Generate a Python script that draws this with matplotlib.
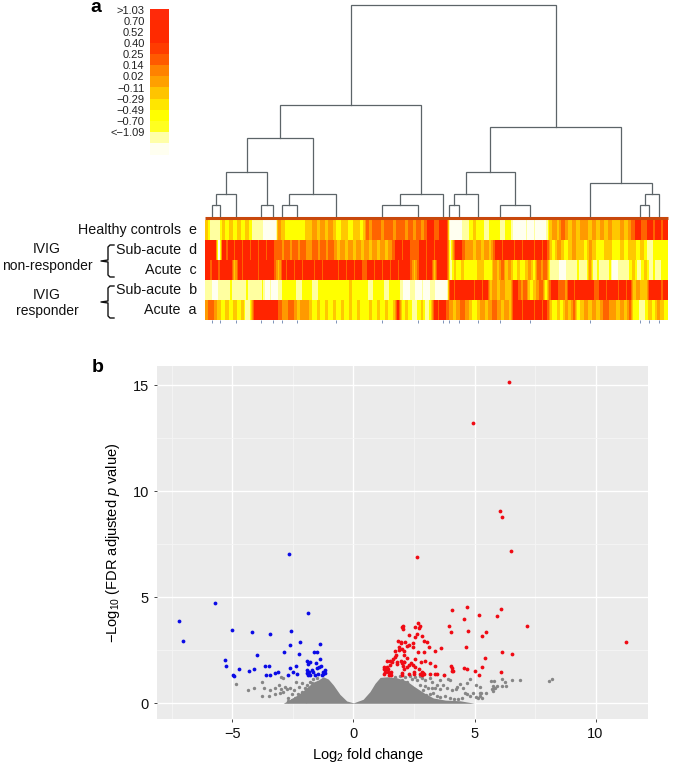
import matplotlib
matplotlib.use('Agg')
import matplotlib.pyplot as plt
import numpy as np
from matplotlib.colors import ListedColormap

plt.rcParams['font.family'] = ['Liberation Sans', 'DejaVu Sans']
plt.rcParams['mathtext.fontset'] = 'custom'
plt.rcParams['mathtext.rm'] = 'Liberation Sans'
plt.rcParams['mathtext.it'] = 'Liberation Sans:italic'
plt.rcParams['axes.unicode_minus'] = True

# colour scale of the heatmap
scale_labels = ['>1.03', '0.70', '0.52', '0.40', '0.25', '0.14', '0.02',
                '\u22120.11', '\u22120.29', '\u22120.49', '\u22120.70', '<\u22121.09']
scale_colors = ['#ff2a0a', '#ff2a00', '#ff2a00', '#ff3c00', '#ff5a00', '#ff8200', '#ffa000',
                '#ffc400', '#ffe600', '#ffff00', '#ffff20', '#ffffa8', '#fffff0']
heat_colors = ['#fffff0', '#ffffa0', '#ffff00', '#ffc800', '#ff9a00', '#ff6400', '#ff2400']

# heatmap rows, one digit per column, level 0 (white) to 6 (red)
row_labels = ['Healthy controls  e', 'Sub-acute  d', 'Acute  c', 'Sub-acute  b', 'Acute  a']
row_e = ('3111' '32323232' '111' '000' '43' '222223' '343434' '32332332' '5455455455454545655'
         '66' '00011' '232212' '22122' '000101001' '343543434434343433434' '565565656')
row_d = ('6660' '65656565' '656' '565' '54' '545454' '454545' '43434343' '4343434565655565656'
         '66' '15654' '434343' '56566565665656' '324323433243223322323' '323212222')
row_c = ('6565' '66636566' '656' '665' '36' '565656' '656566' '65656565' '5656565656653565636'
         '66' '13232' '223322' '43534' '232342545' '111011121141211201112' '312312122')
row_b = ('1101' '11211121' '112' '010' '12' '222122' '212222' '22223222' '2122212221011010110'
         '00' '65666' '656563' '43433' '654523452' '565546566665565665656' '343366656')
row_a = ('4543' '23232312' '666' '666' '54' '454344' '323232' '32323232' '2323232362321231265'
         '65' '43454' '323434' '54343' '665665656' '323243523434345443435' '221232432')
heat_rows = [row_e, row_d, row_c, row_b, row_a]

# dendrogram merges, read in pixels of the figure
merge_left = [350.7, 279.7, 246.7, 226, 216, 212, 260.7, 289.3, 282, 400, 382,
              490.3, 466, 454, 449, 499.7, 590, 645, 640]
merge_right = [555.7, 421.3, 312.7, 267.3, 236, 220, 273.3, 336, 296.7, 442.7, 418.3,
               621, 514.7, 478, 459.3, 529.7, 652, 659.3, 649.3]
merge_height = [5, 105, 138, 172, 194, 205, 205, 194, 205, 194, 205,
                127, 172, 194, 205, 205, 183, 194, 205]
merge_left_end = [105, 138, 172, 194, 205, 216, 216, 205, 216, 205, 216,
                  172, 194, 205, 216, 216, 216, 205, 216]
merge_right_end = [127, 194, 194, 205, 216, 216, 216, 216, 216, 216, 216,
                   183, 205, 216, 216, 216, 194, 216, 216]

# volcano plot
blue_x = [-7.22, -7.04, -5.73, -5.0, -5.32, -5.25, -4.97, -4.93, -4.71, -4.30, -4.12, -3.98, -4.20,
          -3.44, -3.64, -3.47, -3.62, -3.43, -3.26, -3.13, -2.67, -2.58, -1.87, -2.62, -2.22, -2.88,
          -2.27, -2.63, -2.37, -2.49, -2.34, -2.69, -1.94, -1.86, -1.78, -1.91, -1.83, -1.91, -1.86,
          -1.80, -1.71, -1.67, -1.61, -1.63, -1.50, -1.38, -1.40, -1.53, -1.43, -1.35, -1.50, -1.46,
          -1.32, -1.24, -1.17, -1.16, -1.25]
blue_y = [3.90, 2.92, 4.72, 3.44, 2.04, 1.76, 1.32, 1.30, 1.60, 1.54, 1.62, 2.30, 3.38,
          3.27, 1.78, 1.76, 1.34, 1.34, 1.43, 1.48, 7.04, 3.43, 4.25, 2.74, 2.91, 2.44,
          2.31, 1.65, 1.78, 1.48, 1.40, 1.34, 2.01, 1.84, 1.93, 1.57, 1.49, 1.45, 1.32,
          1.35, 1.57, 1.46, 1.34, 2.44, 2.44, 2.80, 2.08, 1.89, 1.73, 1.76, 1.68, 1.38,
          1.32, 1.49, 1.57, 1.45, 1.38]
red_x = [6.42, 4.93, 6.07, 6.12, 6.49, 2.63, 4.67, 4.08, 6.10, 5.18, 5.91, 4.55, 7.18, 3.94, 4.01,
         4.74, 5.48, 5.32, 11.27, 4.63, 6.13, 6.54, 5.45, 5.32, 4.56, 4.68, 5.04, 6.10, 5.18, 4.02,
         4.06, 4.10, 4.05, 3.75, 3.60, 3.35, 3.13, 2.91, 2.66, 2.93, 3.03, 2.82, 2.66, 2.53, 2.74,
         2.71, 2.04, 2.02, 2.04, 2.29, 2.64, 2.56, 1.85, 1.97, 2.13, 1.98, 2.47, 2.30, 2.20, 1.86,
         2.0, 2.07, 1.90, 2.45, 1.72, 1.75, 1.72, 2.09, 2.23, 1.63, 1.52, 1.38, 1.61, 2.55, 2.96,
         2.77, 3.17, 1.97, 2.07, 2.0, 2.09, 2.38, 2.31, 2.45, 1.79, 1.79, 2.04, 2.2, 2.07, 2.56,
         3.35, 2.70, 1.52, 1.28, 1.38, 1.27, 1.34, 1.42, 1.29, 1.42, 1.49, 1.56, 1.54, 1.45, 1.27,
         2.02, 2.0, 2.31, 2.48, 2.51, 2.82, 2.75, 2.89, 2.93, 2.82, 3.17, 3.35, 3.46]
red_y = [15.17, 13.24, 9.06, 8.79, 7.19, 6.89, 4.54, 4.40, 4.45, 4.15, 4.10, 3.96, 3.66, 3.65, 3.38,
         3.43, 3.36, 3.18, 2.91, 2.64, 2.41, 2.31, 2.12, 1.70, 1.65, 1.60, 1.53, 1.49, 1.32, 1.75,
         1.53, 1.53, 1.68, 1.35, 2.59, 2.45, 2.64, 2.41, 2.44, 2.94, 2.91, 3.16, 3.77, 3.60, 3.65,
         3.54, 3.65, 3.58, 3.52, 3.22, 3.25, 3.14, 2.94, 2.91, 2.91, 2.83, 2.83, 2.74, 2.72, 2.64,
         2.55, 2.48, 2.52, 2.64, 2.47, 2.28, 2.20, 2.30, 2.12, 2.08, 1.98, 2.01, 1.97, 2.08, 2.01,
         1.93, 1.92, 2.0, 1.97, 1.89, 1.93, 1.89, 1.81, 1.79, 1.97, 1.84, 1.75, 1.73, 1.6, 1.73,
         1.76, 1.62, 1.81, 1.70, 1.70, 1.60, 1.60, 1.62, 1.48, 1.49, 1.45, 1.48, 1.35, 1.35, 1.38,
         1.42, 1.35, 1.38, 1.49, 1.38, 1.49, 1.38, 1.45, 1.38, 1.32, 1.38, 1.40, 1.38]
grey_x = [-4.85, -4.35, -4.1, -3.77, -3.68, -3.77, -3.45, -3.48, -3.24, -3.24, -2.99, -2.9, -3.08,
          -2.99, -2.9, -3.04, -2.69, -2.55, -2.62, -2.76, -2.46, -2.38, -2.14, -2.24, -2.42, -2.55,
          -2.28, -2.14, -2.0, -1.9, -1.8, -1.66, -1.52, -2.69, -2.83, -2.21, -2.0, -1.8, -1.73, -1.59,
          -1.96, -1.8,
          1.71, 1.92, 2.13, 2.33, 2.54, 2.75, 1.78, 1.99, 2.2, 2.4, 2.61, 2.82, 2.95, 3.16, 3.23,
          2.75, 2.95, 3.09, 2.89, 3.23, 3.37, 3.46, 3.57, 3.71, 3.57, 3.75, 3.92, 3.99, 4.26, 4.4,
          4.24, 4.06, 3.85, 3.3, 3.44, 3.16, 3.0, 3.57, 3.78, 3.99, 4.15, 4.33, 4.47, 4.61, 4.7,
          4.81, 4.95, 5.06, 5.23, 5.16, 4.81, 4.68, 4.54, 5.06,
          5.68, 5.81, 6.14, 6.54, 6.89, 8.08, 8.19, 6.26, 6.14, 6.3, 5.92, 5.75, 5.85, 5.72, 5.78,
          5.8, 5.23, 5.48, 5.25, 5.23, 5.3]
grey_y = [.90, .64, .71, .99, .74, .35, .63, .36, .74, .42, 1.26, 1.18, .86,
          .68, .55, .47, .11, .42, .71, .68, .63, 1.02, .94, .79, .24, .16,
          .42, .55, .71, .86, 1.02, 1.15, 1.21, .24, .79, .16, .31, .74, .94, .86,
          .11, .16,
          1.26, 1.30, 1.23, 1.29, 1.26, 1.29, 1.02, 1.10, 1.02, 1.15, 1.10, 1.18, 1.1, 1.18, .99,
          .86, .83, .71, .63, .74, .71, .86, .67, .86, 1.1, 1.33, 1.15, 1.1, .79, .89,
          .67, .63, .71, .47, .36, .42, .39, .31, .36, .24, .21, .21, .24, .47, .42,
          .36, .47, .31, .47, .24, 1.15, .94, .74, .86,
          1.05, 1.05, 1.16, 1.08, 1.08, 1.05, 1.15, .99, .83, .8, .83, .83, .74, .68, .58,
          .71, .77, .47, .47, .36, .27]
# upper edge of the solid grey mass around zero
mass_x = [-2.9, -2.6, -2.3, -2.07, -1.87, -1.66, -1.45, -1.25, -1.04, -.83, -.56, -.28, 0, .4, .68, .89, 1.1,
          1.4, 1.8, 2.2, 2.5, 2.9, 3.3, 3.8, 4.4, 5.0]
mass_top = [0, .2, .4, .6, .8, 1.0, 1.1, 1.25, 1.14, .86, .42, .11, .02, .19, .55, .94, 1.22,
            1.25, 1.2, 1.05, .8, .5, .25, .15, .12, 0]

fig = plt.figure(figsize=(6.76, 7.67), dpi=100)

# panel a is drawn on an axes spanning the figure, in pixel units
ax = fig.add_axes([0, 0, 1, 1])
ax.axis('off')

n_scale = len(scale_colors)
ax.bar(np.full(n_scale, 159.5), np.full(n_scale, 11.2), width=19.5,
       bottom=9 + 11.2 * np.arange(n_scale), color=scale_colors)
for i, lab in enumerate(scale_labels):
    ax.text(144.5, 10.5 + 11.15 * i, lab, ha='right', va='center', fontsize=8, color='#222222')

cmap = ListedColormap(heat_colors)
for i, row in enumerate(heat_rows):
    levels = np.array([[int(c) for c in row]])
    ax.imshow(levels, cmap=cmap, vmin=0, vmax=6, aspect='auto', interpolation='bilinear',
              extent=(205, 668, 220 + 20 * (i + 1), 220 + 20 * i))
ax.plot([205, 668], [217.5, 217.5], color='#c8480c', lw=2.2, solid_capstyle='butt')
for x0, x1, h, e0, e1 in zip(merge_left, merge_right, merge_height, merge_left_end, merge_right_end):
    ax.plot([x0, x0, x1, x1], [e0, h, h, e1], color='#5c6468', lw=0.9, solid_joinstyle='miter')
ax.vlines([x for x, e in zip(merge_left + merge_right, merge_left_end + merge_right_end) if e == 216],
          320, 323, color='#7f93b8', lw=0.7)

text_y = [230, 250, 270, 290, 310]
for lab, y in zip(row_labels, text_y):
    ax.text(197, y, lab, ha='right', va='center', fontsize=10.3, color='#111111')
for lab, y in [('IVIG', 249), ('non-responder', 266), ('IVIG', 295), ('responder', 311)]:
    ax.text(47, y, lab, ha='center', va='center', fontsize=10, color='#111111')
for top, bot in [(245, 277), (286, 318)]:
    mid = (top + bot) / 2
    ax.plot([114, 110, 108, 108, 101, 108, 108, 110, 114],
            [top, top, top + 2, mid - 1, mid, mid + 1, bot - 2, bot, bot], color='#111111', lw=1.0)
ax.text(95.5, 12, 'a', fontsize=14, fontweight='bold', ha='center', va='baseline')
ax.text(97.5, 372, 'b', fontsize=14, fontweight='bold', ha='center', va='baseline')
ax.set_xlim(0, 676)
ax.set_ylim(767, 0)

# panel b, ggplot look
left, right, top, bottom = 156.7, 648.3, 365.7, 719.3
bx = fig.add_axes([left / 676, 1 - bottom / 767, (right - left) / 676, (bottom - top) / 767])
bx.set_facecolor('#ebebeb')
for s in bx.spines.values():
    s.set_visible(False)
bx.set_xlim(-8.13, 12.18)
bx.set_ylim(-0.755, 15.92)
bx.set_xticks([-5, 0, 5, 10])
bx.set_yticks([0, 5, 10, 15])
bx.set_xticks([-7.5, -2.5, 2.5, 7.5], minor=True)
bx.set_yticks([2.5, 7.5, 12.5], minor=True)
bx.grid(True, which='major', color='white', lw=1.0)
bx.grid(True, which='minor', color='#f5f5f5', lw=0.6)
bx.set_axisbelow(True)
bx.tick_params(which='major', length=2.5, width=0.7, color='#444444', labelsize=10.5, labelcolor='#111111', pad=3)
bx.tick_params(which='minor', length=0)
bx.fill_between(mass_x, 0, mass_top, color='#868686', lw=0, zorder=2)
bx.scatter(grey_x, grey_y, s=6, color='#868686', lw=0, zorder=2)
bx.scatter(blue_x, blue_y, s=7.5, color='#0a0ae6', lw=0, zorder=3)
bx.scatter(red_x, red_y, s=7.5, color='#f00a14', lw=0, zorder=3)
bx.set_xlabel('Log$_2$ fold change', fontsize=10.5, labelpad=4, x=(368 - left) / (right - left))
bx.set_ylabel('\u2212Log$_{10}$ (FDR adjusted $\\mathit{p}$ value)', fontsize=10.5, labelpad=8)

fig.savefig('out.png', dpi=100)
